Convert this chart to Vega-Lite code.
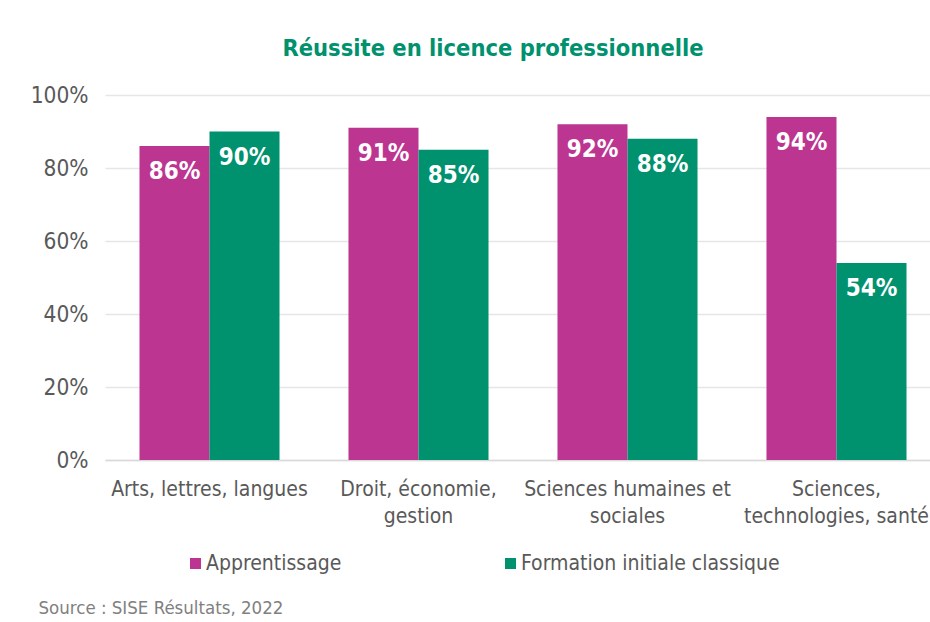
{
  "$schema": "https://vega.github.io/schema/vega-lite/v6.json",
  "autosize": {"type": "none"},
  "width": 836,
  "height": 365,
  "padding": {"left": 105, "top": 95, "right": 0, "bottom": 162},
  "background": "white",
  "title": {
    "text": "Réussite en licence professionnelle",
    "color": "#00916E",
    "fontSize": 23.5,
    "fontWeight": "bold",
    "font": "DejaVu Sans Condensed, DejaVu Sans",
    "anchor": "middle",
    "dx": -30,
    "offset": 24
  },
  "config": {
    "font": "DejaVu Sans Condensed, DejaVu Sans",
    "view": {"stroke": null}
  },
  "data": {
    "values": [
      {"cat": "Arts, lettres, langues", "serie": "Apprentissage", "v": 0.86},
      {"cat": "Arts, lettres, langues", "serie": "Formation initiale classique", "v": 0.90},
      {"cat": "Droit, économie, gestion", "serie": "Apprentissage", "v": 0.91},
      {"cat": "Droit, économie, gestion", "serie": "Formation initiale classique", "v": 0.85},
      {"cat": "Sciences humaines et sociales", "serie": "Apprentissage", "v": 0.92},
      {"cat": "Sciences humaines et sociales", "serie": "Formation initiale classique", "v": 0.88},
      {"cat": "Sciences, technologies, santé", "serie": "Apprentissage", "v": 0.94},
      {"cat": "Sciences, technologies, santé", "serie": "Formation initiale classique", "v": 0.54}
    ]
  },
  "encoding": {
    "x": {
      "field": "cat",
      "type": "nominal",
      "sort": null,
      "scale": {"paddingInner": 0.33, "paddingOuter": 0.165},
      "axis": {
        "title": "Source : SISE Résultats, 2022",
        "titleFontSize": 18.5,
        "titleFontWeight": "normal",
        "titleColor": "#808080",
        "titleAnchor": "start",
        "titleAlign": "left",
        "titleBaseline": "alphabetic",
        "titleX": -67,
        "titleY": 153,
        "labelAngle": 0,
        "labelFontSize": 21,
        "labelColor": "#595959",
        "labelPadding": 29,
        "labelLineHeight": 27,
        "labelBaseline": "middle",
        "labelLimit": 0,
        "ticks": false,
        "domainColor": "#d9d9d9",
        "domainWidth": 1.5,
        "labelExpr": "datum.value == 'Droit, économie, gestion' ? ['Droit, économie,', 'gestion'] : datum.value == 'Sciences humaines et sociales' ? ['Sciences humaines et', 'sociales'] : datum.value == 'Sciences, technologies, santé' ? ['Sciences,', 'technologies, santé'] : datum.value"
      }
    },
    "xOffset": {"field": "serie", "type": "nominal", "sort": ["Apprentissage", "Formation initiale classique"]},
    "y": {
      "field": "v",
      "type": "quantitative",
      "scale": {"domain": [0, 1]},
      "axis": {
        "title": null,
        "format": ".0%",
        "values": [0, 0.2, 0.4, 0.6, 0.8, 1],
        "labelFontSize": 22.5,
        "labelColor": "#595959",
        "labelPadding": 17,
        "ticks": false,
        "domain": false,
        "gridColor": "#e6e6e6",
        "gridWidth": 1.5
      }
    }
  },
  "layer": [
    {
      "mark": {"type": "bar"},
      "encoding": {
        "color": {
          "field": "serie",
          "type": "nominal",
          "scale": {"domain": ["Apprentissage", "Formation initiale classique"], "range": ["#BC3590", "#00916E"]},
          "legend": {
            "title": null,
            "orient": "none",
            "legendX": 80,
            "legendY": 458,
            "padding": 0,
            "direction": "horizontal",
            "columns": 2,
            "gridAlign": "none",
            "columnPadding": 158,
            "symbolType": "square",
            "symbolSize": 121,
            "symbolStrokeWidth": 0,
            "labelFontSize": 21,
            "labelLimit": 0,
            "labelColor": "#595959",
            "labelOffset": 0
          }
        }
      }
    },
    {
      "mark": {"type": "text", "baseline": "middle", "dy": 26, "color": "white", "fontWeight": "bold", "fontSize": 24},
      "encoding": {
        "text": {"field": "v", "type": "quantitative", "format": ".0%"}
      }
    }
  ]
}
